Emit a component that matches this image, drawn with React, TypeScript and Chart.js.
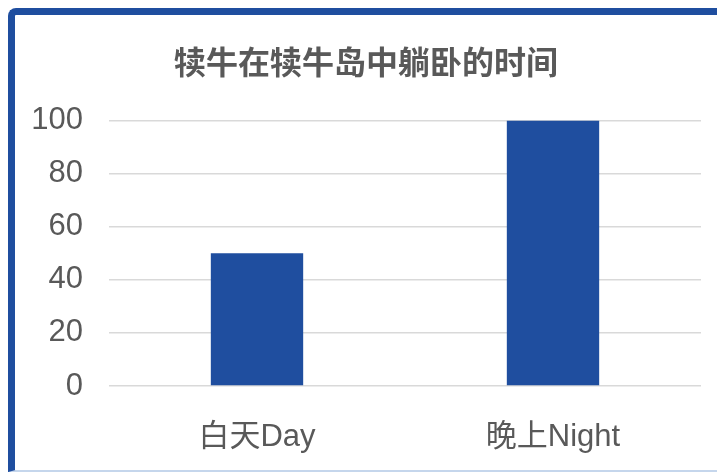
import React, { useEffect, useRef } from "react";
import { Chart, registerables } from "chart.js";

Chart.register(...registerables);

const categories: string[] = ["白天Day", "晚上Night"];
const values: number[] = [50, 100];
const chartTitle = "犊牛在犊牛岛中躺卧的时间";
const yMin = 0;
const yMax = 100;
const yStep = 20;

const FONT = "'Liberation Sans', Arial, 'Noto Sans CJK SC', sans-serif";

export default function App() {
  const ref = useRef<HTMLCanvasElement | null>(null);

  useEffect(() => {
    if (!ref.current) return;
    const chart = new Chart(ref.current, {
      type: "bar",
      data: {
        labels: categories,
        datasets: [
          {
            data: values,
            backgroundColor: "#1f4e9f",
            borderWidth: 0,
            categoryPercentage: 1,
            barPercentage: 0.312,
          },
        ],
      },
      options: {
        responsive: false,
        animation: false,
        layout: { padding: { left: 16, right: 24, top: 0, bottom: 16 } },
        plugins: {
          legend: { display: false },
          tooltip: { enabled: false },
          title: {
            display: true,
            text: chartTitle,
            color: "#595959",
            font: { family: FONT, size: 32, weight: "bold" },
            padding: { top: 31, bottom: 36 },
          },
        },
        scales: {
          x: {
            grid: { display: false, drawTicks: false },
            border: { display: false },
            ticks: {
              color: "#595959",
              font: { family: FONT, size: 31 },
              padding: 33,
            },
            afterFit: (scale: any) => {
              scale.height = 68;
            },
          },
          y: {
            min: yMin,
            max: yMax,
            grid: { color: "#d9d9d9", lineWidth: 1.5, drawTicks: false },
            border: { display: false },
            ticks: {
              stepSize: yStep,
              color: "#595959",
              font: { family: FONT, size: 31 },
              padding: 26,
            },
            afterFit: (scale: any) => {
              scale.width = 78;
            },
          },
        },
      },
    });
    return () => chart.destroy();
  }, []);

  return (
    <div
      style={{
        width: 710,
        height: 455,
        borderLeft: "7px solid #1f4e9f",
        borderTop: "7px solid #1f4e9f",
        borderBottom: "2px solid #c5d6ec",
        borderTopLeftRadius: 8,
        background: "#ffffff",
      }}
    >
      <canvas ref={ref} width={710} height={455} style={{ display: "block" }} />
    </div>
  );
}
